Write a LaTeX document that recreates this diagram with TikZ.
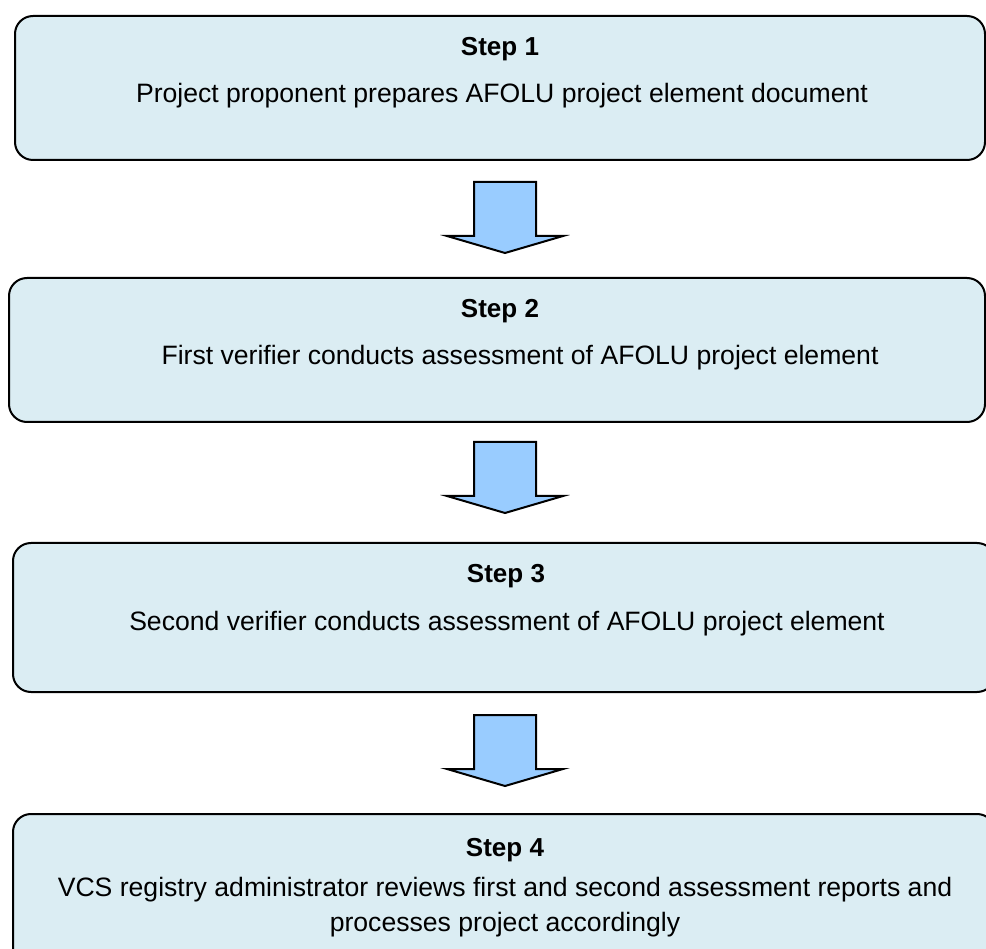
\documentclass[tikz,border=0pt]{standalone}
\usepackage{fontspec}
\setmainfont{Liberation Sans}
\definecolor{boxfill}{RGB}{219,237,243}
\definecolor{arrowfill}{RGB}{153,204,255}
\tikzset{
  stepbox/.style={draw=black, line width=2pt, fill=boxfill, rounded corners=18pt, inner sep=0pt},
  titletext/.style={anchor=base, inner sep=0pt, font=\fontsize{26}{31}\selectfont\bfseries},
  bodytext/.style={anchor=base, inner sep=0pt, font=\fontsize{26.6}{35}\selectfont, align=center},
  blockarrow/.pic={\draw[draw=black, line width=2pt, fill=arrowfill, line join=miter]
     (-31,0) -- (31,0) -- (31,54) -- (58,54) -- (0,71) -- (-58,54) -- (-31,54) -- cycle;}
}
\begin{document}
\begin{tikzpicture}[x=1pt, y=-1pt]
\useasboundingbox (0,0) rectangle (986,949);
\clip (0,0) rectangle (986,949);
% boxes
\node[stepbox, minimum width=970pt, minimum height=144pt] (b1) at (500,88) {};
\node[stepbox, minimum width=976pt, minimum height=144pt] (b2) at (497,350) {};
\node[stepbox, minimum width=982pt, minimum height=149pt] (b3) at (504,617.5) {};
\node[stepbox, minimum width=982pt, minimum height=151pt] (b4) at (504,889.5) {};
% texts
\node[titletext] (t1) at (500,56) {Step 1};
\node[bodytext] (d1) at (502,103) {Project proponent prepares AFOLU project element document};
\node[titletext] (t2) at (500,318) {Step 2};
\node[bodytext] (d2) at (520,365) {First verifier conducts assessment of AFOLU project element};
\node[titletext] (t3) at (506,583) {Step 3};
\node[bodytext] (d3) at (507,630) {Second verifier conducts assessment of AFOLU project element};
\node[titletext] (t4) at (505,856) {Step 4};
\node[bodytext] (d4a) at (505,896) {VCS registry administrator reviews first and second assessment reports and};
\node[bodytext] (d4b) at (505,931) {processes project accordingly};
% arrows
\coordinate (a1) at (505,182);
\coordinate (a2) at (505,442);
\coordinate (a3) at (505,715);
\pic at (a1) {blockarrow};
\pic at (a2) {blockarrow};
\pic at (a3) {blockarrow};
\end{tikzpicture}
\end{document}
